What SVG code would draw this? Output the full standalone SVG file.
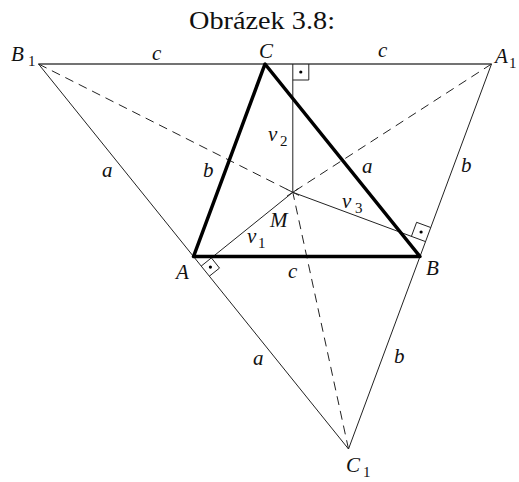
<svg xmlns="http://www.w3.org/2000/svg" width="519" height="482" viewBox="0 0 519 482">
<style>
.thin{stroke:#222;stroke-width:1;fill:none}
.top{stroke:#444;stroke-width:1.5;fill:none}
.thick{stroke:#000;stroke-width:3.5;fill:none;stroke-linejoin:round}
.dash{stroke:#222;stroke-width:1;fill:none;stroke-dasharray:9 6}
.mark{stroke:#222;stroke-width:1;fill:none}
.dot{fill:#000}
.lbl{font-style:italic;font-size:21px}
.sub{font-style:normal;font-size:15px}
</style>
<rect width="519" height="482" fill="#fff"/>
<g font-family="'Liberation Serif', 'Times New Roman', serif" fill="#111">
<text x="262" y="29" font-size="26" text-anchor="middle" textLength="146" lengthAdjust="spacingAndGlyphs">Obrázek 3.8:</text>
</g>

<g id="connectors">
  <line class="top" x1="38.5" y1="64" x2="491.5" y2="64"/>
  <line class="thin" x1="38.5" y1="64" x2="348.5" y2="449"/>
  <line class="thin" x1="491.5" y1="64" x2="348.5" y2="449"/>
  <line class="dash" x1="38.5" y1="64" x2="292.8" y2="192.3"/>
  <line class="dash" x1="491.5" y1="64" x2="292.8" y2="192.3"/>
  <line class="dash" x1="348.5" y1="449" x2="292.8" y2="192.3"/>
  <line class="thin" x1="286.6" y1="189.2" x2="299" y2="195.4"/>
  <line class="thin" x1="298.6" y1="188.5" x2="287" y2="196.1"/>
  <line class="thin" x1="292.8" y1="192.3" x2="292.8" y2="64"/>
  <line class="thin" x1="292.8" y1="192.3" x2="201.2" y2="266.1"/>
  <line class="thin" x1="292.8" y1="192.3" x2="425.5" y2="241.6"/>
  <polygon class="thick" points="193.5,256.5 420,256.5 265,64"/>
</g>

<g id="marks">
  <polyline class="mark" points="292.8,80 308.8,80 308.8,64"/>
  <circle class="dot" cx="300.8" cy="72" r="1.6"/>
  <polyline class="mark" points="209.3,276.2 219.5,268.1 211.4,257.9"/>
  <circle class="dot" cx="210.4" cy="267.1" r="1.6"/>
  <polyline class="mark" points="430.7,227.5 416.6,222.3 411.4,236.4"/>
  <circle class="dot" cx="421.1" cy="232" r="1.6"/>
</g>

<g font-family="'Liberation Serif', 'Times New Roman', serif" fill="#111">
<g id="node-B1"><text class="lbl" x="11" y="61">B</text><text class="sub" x="28" y="66">1</text></g>
<g id="node-A1"><text class="lbl" x="495" y="63">A</text><text class="sub" x="509" y="68">1</text></g>
<g id="node-C1"><text class="lbl" x="346" y="472">C</text><text class="sub" x="363" y="477">1</text></g>
<g id="node-C"><text class="lbl" x="259" y="58">C</text></g>
<g id="node-A"><text class="lbl" x="176" y="279">A</text></g>
<g id="node-B"><text class="lbl" x="426" y="275">B</text></g>
<g id="node-M"><text class="lbl" x="270" y="227">M</text></g>

<g id="labels">
  <text class="lbl" x="152" y="60">c</text>
  <text class="lbl" x="378" y="57">c</text>
  <text class="lbl" x="288" y="278">c</text>
  <text class="lbl" x="102" y="177">a</text>
  <text class="lbl" x="362" y="173">a</text>
  <text class="lbl" x="253" y="365">a</text>
  <text class="lbl" x="203" y="177">b</text>
  <text class="lbl" x="461" y="172">b</text>
  <text class="lbl" x="394" y="363">b</text>
  <text class="lbl" x="268" y="141">v</text><text class="sub" x="280" y="146">2</text>
  <text class="lbl" x="342" y="208">v</text><text class="sub" x="355" y="213">3</text>
  <text class="lbl" x="247" y="243">v</text><text class="sub" x="258" y="248">1</text>
</g>
</g>
</svg>
